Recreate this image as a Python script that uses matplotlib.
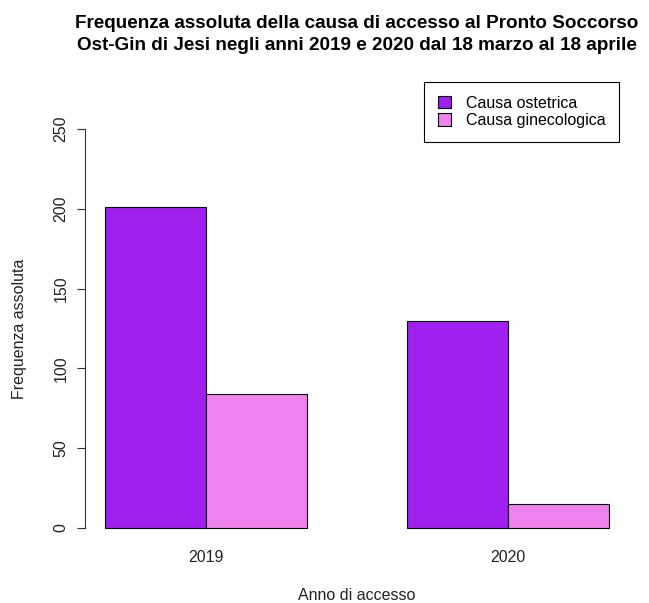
import matplotlib
matplotlib.use("Agg")
import matplotlib.pyplot as plt
from matplotlib.patches import Patch

plt.rcParams['font.family'] = ['Liberation Sans', 'DejaVu Sans']

years = ["2019", "2020"]
series_names = ["Causa ostetrica", "Causa ginecologica"]
ostetrica = [201, 130]
ginecologica = [84, 15]
colors = ["#A020F0", "#EE82EE"]
yticks = [0, 50, 100, 150, 200, 250]

FS = 11.5
fig = plt.figure(figsize=(6.49, 6.03), dpi=100)
W, H = 649, 603
left, right, bottom, top = 84.8, 629, 544, 113
ax = fig.add_axes([left / W, (H - bottom) / H, (right - left) / W, (bottom - top) / H])

# R barplot beside=TRUE layout: group starts at 1 and 4
group_starts = [1, 4]
for i, start in enumerate(group_starts):
    ax.bar(start, ostetrica[i], width=1, align='edge', color=colors[0], edgecolor='black', linewidth=0.8)
    ax.bar(start + 1, ginecologica[i], width=1, align='edge', color=colors[1], edgecolor='black', linewidth=0.8)

ax.set_xlim(0.8, 6.2)
ax.set_ylim(-10, 260)
for s in ['top', 'right', 'bottom']:
    ax.spines[s].set_visible(False)
ax.spines['left'].set_bounds(0, 250)
ax.spines['left'].set_color('#333333')
ax.set_yticks(yticks)
ax.set_yticklabels([str(t) for t in yticks], rotation=90, va='center', fontsize=FS, color='#222222')
ax.tick_params(axis='y', length=5.8, pad=6, color='#333333')
ax.set_xticks([g + 1 for g in group_starts])
ax.set_xticklabels(years, fontsize=FS, color='#222222')
ax.tick_params(axis='x', length=0, pad=4)

fig.text((left + right) / 2 / W, 1 - 595 / H, "Anno di accesso",
         ha='center', va='center', fontsize=FS, color='#222222')
fig.text(20 / W, 1 - ((top + bottom) / 2 + 0) / H, "Frequenza assoluta",
         ha='center', va='center', rotation=90, fontsize=FS, color='#222222')

fig.text((left + right) / 2 / W, 1 - 24 / H,
         "Frequenza assoluta della causa di accesso al Pronto Soccorso",
         ha='center', va='center', fontsize=13.6, fontweight='bold')
fig.text((left + right) / 2 / W, 1 - 46 / H,
         "Ost-Gin di Jesi negli anni 2019 e 2020 dal 18 marzo al 18 aprile",
         ha='center', va='center', fontsize=13.6, fontweight='bold')

handles = [Patch(facecolor=c, edgecolor='black', linewidth=0.8) for c in colors]
leg = ax.legend(handles, series_names, loc='upper right',
                bbox_to_anchor=(619 / W, 1 - 82 / H), bbox_transform=fig.transFigure,
                fontsize=FS, fancybox=False, framealpha=1, edgecolor='black',
                handlelength=0.8, handleheight=0.8, borderpad=0.85, labelspacing=0.15,
                handletextpad=0.95, borderaxespad=0)
leg.get_frame().set_linewidth(0.8)

fig.savefig("out.png", dpi=100, facecolor='white')
